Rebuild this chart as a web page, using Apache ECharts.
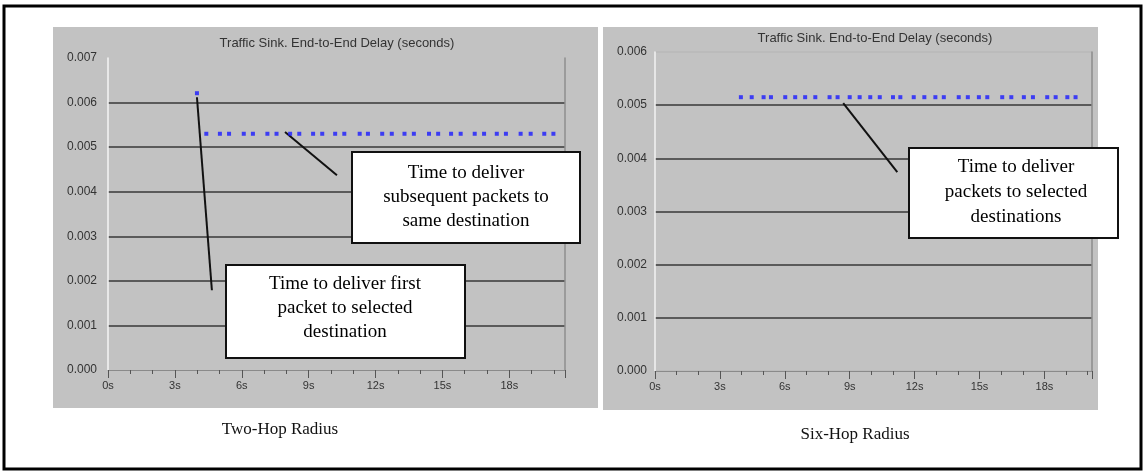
<!DOCTYPE html>
<html>
<head>
<meta charset="utf-8">
<script src="https://cdn.jsdelivr.net/npm/echarts@6/dist/echarts.min.js"></script>
<style>
html,body{margin:0;padding:0;background:#fff;}
#c{width:1147px;height:473px;}
</style>
</head>
<body>
<div id="c"></div>
<script>
// ---- data ----
const chartTitle = 'Traffic Sink. End-to-End Delay (seconds)';
const leftCaption = 'Two-Hop Radius';
const rightCaption = 'Six-Hop Radius';

// Two-hop radius: first packet
const twoHopFirstT = [3.99];
const twoHopFirstV = [0.00621];
// Two-hop radius: subsequent packets
const twoHopT = [4.41, 5.02, 5.43, 6.09, 6.50, 7.15, 7.56, 8.17, 8.58, 9.20, 9.61, 10.19, 10.60, 11.29, 11.66,
                 12.30, 12.73, 13.30, 13.72, 14.40, 14.81, 15.39, 15.82, 16.45, 16.87, 17.44, 17.85, 18.51, 18.96, 19.57, 19.98];
const twoHopV = [0.0053, 0.0053, 0.0053, 0.0053, 0.0053, 0.0053, 0.0053, 0.0053, 0.0053, 0.0053, 0.0053,
                 0.0053, 0.0053, 0.0053, 0.0053, 0.0053, 0.0053, 0.0053, 0.0053, 0.0053, 0.0053, 0.0053,
                 0.0053, 0.0053, 0.0053, 0.0053, 0.0053, 0.0053, 0.0053, 0.0053, 0.0053];
// Six-hop radius
const sixHopT = [3.97, 4.47, 5.02, 5.36, 6.02, 6.48, 6.94, 7.41, 8.07, 8.44, 9.00, 9.46, 9.95, 10.39, 11.00, 11.34,
                 11.96, 12.45, 12.96, 13.35, 14.04, 14.46, 14.97, 15.36, 16.05, 16.47, 17.05, 17.47, 18.13, 18.52, 19.06, 19.44];
const sixHopV = [0.00515, 0.00515, 0.00515, 0.00515, 0.00515, 0.00515, 0.00515, 0.00515, 0.00515, 0.00515, 0.00515,
                 0.00515, 0.00515, 0.00515, 0.00515, 0.00515, 0.00515, 0.00515, 0.00515, 0.00515, 0.00515, 0.00515,
                 0.00515, 0.00515, 0.00515, 0.00515, 0.00515, 0.00515, 0.00515, 0.00515, 0.00515, 0.00515];

// axis ranges / ticks
const leftYMax = 0.007, rightYMax = 0.006, yStep = 0.001;
const leftXMax = 20.5, rightXMax = 20.2, xStep = 3;

// annotation texts
const noteSubsequent = ['Time to deliver', 'subsequent packets to', 'same destination'];
const noteFirst = ['Time to deliver first', 'packet to selected', 'destination'];
const noteSix = ['Time to deliver', 'packets to selected', 'destinations'];

// leader lines in data coordinates [t, delay]
const leaderFirst = [[3.99, 0.00612], [4.66, 0.00179]];
const leaderSubsequent = [[7.94, 0.00534], [10.27, 0.00437]];
const leaderSix = [[8.70, 0.00504], [11.20, 0.00374]];

// ---- build ----
const zip = (a, b) => a.map((v, i) => [v, b[i]]);
const chart = echarts.init(document.getElementById('c'), null, {renderer: 'canvas'});

const sansFont = 'Liberation Sans, Arial, sans-serif';
const serifFont = 'Liberation Serif, Times New Roman, serif';

function xAxisCfg(gridIndex, max) {
  return {
    type: 'value', gridIndex, min: 0, max, interval: xStep,
    axisLine: {show: true, lineStyle: {color: '#8a8a8a', width: 1}},
    axisTick: {show: true, length: 8, lineStyle: {color: '#555', width: 1}},
    minorTick: {show: true, splitNumber: 3, length: 4, lineStyle: {color: '#555', width: 1}},
    axisLabel: {show: true, color: '#333', fontFamily: sansFont, fontSize: 11, margin: 10,
      showMaxLabel: false,
      formatter: v => (Math.abs(v / xStep - Math.round(v / xStep)) < 1e-6 ? Math.round(v) + 's' : '')},
    splitLine: {show: false}
  };
}
function yAxisCfg(gridIndex, max, offset) {
  return {
    type: 'value', gridIndex, min: 0, max, interval: yStep, offset,
    axisLine: {show: true, lineStyle: {color: '#f4f4f4', width: 1.5}},
    axisTick: {show: false},
    axisLabel: {show: true, color: '#333', fontFamily: sansFont, fontSize: 12, margin: 6,
      formatter: v => v.toFixed(3)},
    splitLine: {show: true, showMinLine: false, showMaxLine: false, lineStyle: {color: '#5a5a5a', width: 2}}
  };
}
function rightFrame(gridIndex, max) {
  return {
    type: 'value', gridIndex, min: 0, max, position: 'right',
    axisLine: {show: true, lineStyle: {color: '#8e8e8e', width: 1.5}},
    axisTick: {show: false}, axisLabel: {show: false}, splitLine: {show: false}
  };
}
function leader(pts, xi, yi) {
  return {
    type: 'line', xAxisIndex: xi, yAxisIndex: yi, data: pts,
    symbol: 'none', lineStyle: {color: '#111', width: 2}, silent: true, z: 3, animation: false
  };
}
function box(x, y, w, h, lines, cx, firstY, lh) {
  const els = [{
    type: 'rect', shape: {x, y, width: w, height: h},
    style: {fill: '#fff', stroke: '#111', lineWidth: 2}, z: 10
  }];
  lines.forEach((t, i) => els.push({
    type: 'text', x: cx, y: firstY + i * lh, z: 11,
    style: {text: t, fill: '#000', font: '19px ' + serifFont, align: 'center', verticalAlign: 'middle'}
  }));
  return els;
}

const option = {
  animation: false,
  backgroundColor: '#fff',
  grid: [
    {left: 108, top: 58, width: 457, height: 312},
    {left: 655, top: 52, width: 437, height: 319, show: true, borderColor: '#b4b4b4', borderWidth: 1, backgroundColor: 'transparent'}
  ],
  xAxis: [xAxisCfg(0, leftXMax), xAxisCfg(1, rightXMax)],
  yAxis: [yAxisCfg(0, leftYMax, 5), yAxisCfg(1, rightYMax, 2), rightFrame(0, leftYMax), rightFrame(1, rightYMax)],
  series: [
    {type: 'scatter', xAxisIndex: 0, yAxisIndex: 0, data: zip(twoHopFirstT, twoHopFirstV),
      symbol: 'rect', symbolSize: 4, itemStyle: {color: '#1a1aff'}, z: 4},
    {type: 'scatter', xAxisIndex: 0, yAxisIndex: 0, data: zip(twoHopT, twoHopV),
      symbol: 'rect', symbolSize: 4, itemStyle: {color: '#1a1aff'}, z: 4},
    {type: 'scatter', xAxisIndex: 1, yAxisIndex: 1, data: zip(sixHopT, sixHopV),
      symbol: 'rect', symbolSize: 4, itemStyle: {color: '#1a1aff'}, z: 4},
    leader(leaderFirst, 0, 0),
    leader(leaderSubsequent, 0, 0),
    leader(leaderSix, 1, 1)
  ],
  graphic: [
    {type: 'rect', shape: {x: 4, y: 6, width: 1137, height: 463}, style: {fill: '#fff', stroke: '#000', lineWidth: 3}, z: -20, silent: true},
    {type: 'rect', shape: {x: 53, y: 27, width: 545, height: 381}, style: {fill: '#c2c2c2'}, z: -10, silent: true},
    {type: 'rect', shape: {x: 603, y: 27, width: 495, height: 383}, style: {fill: '#c2c2c2'}, z: -10, silent: true},
    {type: 'text', x: 337, y: 43, z: 5, style: {text: chartTitle, fill: '#333', font: '13px ' + sansFont, align: 'center', verticalAlign: 'middle'}},
    {type: 'text', x: 875, y: 38, z: 5, style: {text: chartTitle, fill: '#333', font: '13px ' + sansFont, align: 'center', verticalAlign: 'middle'}},
    {type: 'text', x: 280, y: 430, z: 5, style: {text: leftCaption, fill: '#111', font: '17px ' + serifFont, align: 'center', verticalAlign: 'middle'}},
    {type: 'text', x: 855, y: 435, z: 5, style: {text: rightCaption, fill: '#111', font: '17px ' + serifFont, align: 'center', verticalAlign: 'middle'}},
    ...box(352, 152, 228, 91, noteSubsequent, 466, 173, 24),
    ...box(226, 265, 239, 93, noteFirst, 345, 284, 24),
    ...box(909, 148, 209, 90, noteSix, 1016, 167, 25)
  ]
};
chart.setOption(option);
</script>
</body>
</html>
